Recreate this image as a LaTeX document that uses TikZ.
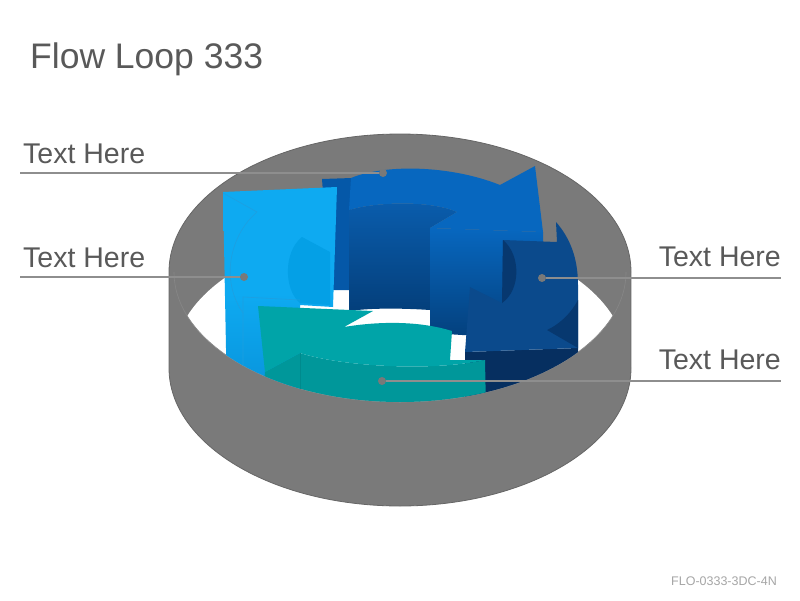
\documentclass[tikz,border=0pt]{standalone}
\usepackage{fontspec}
\setmainfont{Liberation Sans}
\definecolor{shell}{HTML}{7A7A7A}
\definecolor{shellEdge}{HTML}{666666}
\definecolor{rimEdge}{HTML}{878787}
\definecolor{blueTop}{HTML}{0767BF}
\definecolor{blueEnd}{HTML}{0558A8}
\definecolor{blueHi}{HTML}{0A5DAD}
\definecolor{blueLo}{HTML}{043F7B}
\definecolor{sky}{HTML}{0EAAF1}
\definecolor{skyLow}{HTML}{0892DA}
\definecolor{skyInner}{HTML}{04A0E6}
\definecolor{skyEdge}{HTML}{1E9FE0}
\definecolor{navy}{HTML}{0B4A8C}
\definecolor{navyDark}{HTML}{07386F}
\definecolor{navyLow}{HTML}{062F60}
\definecolor{tealTop}{HTML}{00A4A8}
\definecolor{tealFront}{HTML}{00979A}
\definecolor{tealEdge}{HTML}{008A8D}
\definecolor{label}{HTML}{595959}
\definecolor{leader}{HTML}{8E8E8E}
\definecolor{code}{HTML}{A6A6A6}
\begin{document}
\begin{tikzpicture}[x=1pt,y=-1pt,
    txt/.style={text=label,inner sep=0pt,font=\fontsize{28.5}{33}\selectfont},
    leaderline/.style={draw=leader,line width=2.5pt},
    dot/.style={circle,fill=leader!85!black,inner sep=0pt,minimum size=8pt}]
  \useasboundingbox[fill=white] (0,0) rectangle (800,600);
  \node[text=label,inner sep=0pt,anchor=base west,font=\fontsize{35.5}{40}\selectfont] (title) at (30,68) {Flow Loop 333};
  \node[text=code,inner sep=0pt,anchor=base east,font=\fontsize{12.5}{14}\selectfont] (code) at (777,585) {FLO-0333-3DC-4N};
  \fill[shell] (400,368) ellipse [x radius=231pt, y radius=138pt];
  \fill[shell] (169,272) rectangle (631,368);
  \fill[shell] (400,272) ellipse [x radius=231pt, y radius=138pt];
  \draw[shellEdge,line width=0.8pt] (169,272) -- (169,368)
    arc [start angle=180, end angle=360, x radius=231pt, y radius=138pt]
    -- (631,272) arc [start angle=0, end angle=180, x radius=231pt, y radius=138pt];
  \begin{scope}
    \clip (400,272) ellipse [x radius=226pt, y radius=130pt];
    \fill[white] (400,360) ellipse [x radius=226pt, y radius=130pt];
  \end{scope}
  \draw[rimEdge,line width=0.6pt] (174,272) arc [start angle=180, end angle=360, x radius=226pt, y radius=130pt];
  \begin{scope}
    \clip (174,100) -- (174,272) arc [start angle=180, end angle=360, x radius=226pt, y radius=130pt] -- (626,100) -- cycle;
    \fill[blueEnd] (322,179) -- (352,178) -- (349,290) -- (330,290) -- cycle;
    \shade[top color=blueHi,bottom color=blueLo] (349,210) .. controls (375,202) and (430,200) .. (457,212)
      -- (430,228) -- (430,310) .. controls (400,308) and (370,308) .. (349,311) -- cycle;
    \shade[top color=blueTop,bottom color=blueLo] (430,228) -- (543,232) -- (543,340) -- (430,333) -- cycle;
    \fill[blueTop] (351,178) .. controls (385,164) and (450,165) .. (500,185) -- (535,166) -- (543,232)
      -- (430,228) -- (457,212) .. controls (430,200) and (375,202) .. (349,210) -- cycle;
    \shade[top color=sky,bottom color=skyLow,middle color=sky] (223,192) -- (337,187) -- (333,307) -- (300,305)
      -- (300,400) -- (227,400) -- cycle;
    \fill[skyInner] (302,237) -- (330,252) -- (330,305) -- (300,303) .. controls (284,290) and (283,252) .. (302,237) -- cycle;
    \draw[skyEdge,line width=0.6pt] (223,193) -- (257,212) .. controls (230,235) and (220,280) .. (243,313);
    \draw[skyEdge,line width=0.6pt] (243,400) -- (243,297) -- (300,300);
    \fill[navyLow] (465,352) -- (578,348) -- (578,400) -- (465,400) -- cycle;
    \fill[navy] (503,240) -- (557,242) -- (556,222) .. controls (570,238) and (578,258) .. (578,285)
      -- (578,348) -- (465,352) -- (470,287) -- (502,303) -- cycle;
    \fill[navyDark] (503,240) .. controls (521,255) and (521,290) .. (502,303) -- cycle;
    \fill[navyDark] (578,300) .. controls (570,315) and (558,325) .. (547,330) -- (578,348) -- cycle;
    \fill[tealFront] (265,372) -- (300,353) .. controls (340,366) and (430,372) .. (485,360)
      -- (486,410) -- (262,410) -- cycle;
    \fill[tealTop] (258,306) -- (373,311) -- (344,327) .. controls (380,321) and (420,321) .. (452,331)
      -- (450,360) -- (485,360) .. controls (430,372) and (340,366) .. (300,353) -- (265,372) -- cycle;
    \draw[tealEdge,line width=0.6pt] (300,353) -- (300,410);
  \end{scope}
  \node[txt,anchor=base west] (txtTop) at (23,163) {Text Here};
  \node[dot] (dotTop) at (383,173) {};
  \coordinate (endTop) at (20,173);
  \draw[leaderline] (endTop) -- (dotTop);
  \node[txt,anchor=base west] (txtLeft) at (23,267) {Text Here};
  \node[dot] (dotLeft) at (244,277) {};
  \coordinate (endLeft) at (20,277);
  \draw[leaderline] (endLeft) -- (dotLeft);
  \node[txt,anchor=base east] (txtRight) at (781,266) {Text Here};
  \node[dot] (dotRight) at (542,278) {};
  \coordinate (endRight) at (781,278);
  \draw[leaderline] (dotRight) -- (endRight);
  \node[txt,anchor=base east] (txtBottom) at (781,369) {Text Here};
  \node[dot] (dotBottom) at (382,381) {};
  \coordinate (endBottom) at (781,381);
  \draw[leaderline] (dotBottom) -- (endBottom);
\end{tikzpicture}
\end{document}
